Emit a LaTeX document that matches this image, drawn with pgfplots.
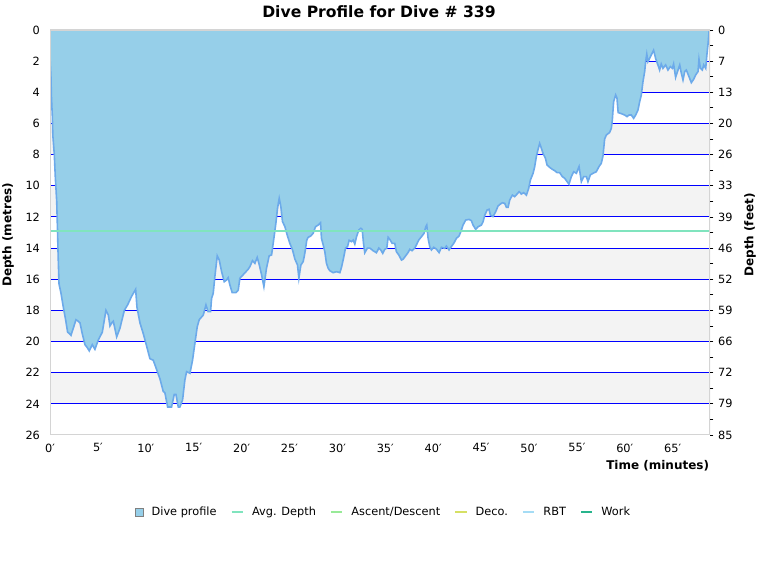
\documentclass[border=0pt]{standalone}
\usepackage{fontspec}
\setmainfont{DejaVu Sans}
\usepackage{pgfplots}
\usepackage{pgfplotstable}
\pgfplotsset{compat=1.18}

\definecolor{profilefill}{RGB}{150,207,233}
\definecolor{profileline}{RGB}{108,170,234}
\definecolor{band}{RGB}{243,243,243}
\definecolor{gridblue}{RGB}{0,0,255}
\definecolor{framegrey}{RGB}{212,212,212}
\definecolor{avgdepth}{RGB}{128,228,190}
\definecolor{ascent}{RGB}{152,234,152}
\definecolor{deco}{RGB}{214,224,100}
\definecolor{rbt}{RGB}{165,220,245}
\definecolor{work}{RGB}{40,180,140}

\pgfplotsset{
  lineleg/.style={legend image code/.code={\draw[##1] (0pt,0pt) -- (8.5pt,0pt);}},
  boxleg/.style={legend image code/.code={\draw[fill=profilefill, draw=gray] (0pt,-3pt) rectangle (6pt,3pt);}},
}

% time (min), depth (m)
\pgfplotstableread{
t d
0.00 1.5
0.02 2.0
0.10 3.0
0.15 4.3
0.24 5.5
0.30 6.8
0.45 8.0
0.55 9.4
0.70 11.0
0.78 12.8
0.85 14.5
0.94 16.3
1.15 16.9
1.39 17.8
1.63 18.6
1.84 19.4
2.05 19.5
2.19 19.6
2.43 19.15
2.71 18.6
2.95 18.7
3.13 18.8
3.37 19.5
3.65 20.2
3.90 20.4
4.10 20.6
4.41 20.2
4.69 20.5
5.04 19.9
5.46 19.4
5.84 18.0
6.09 18.3
6.26 19.0
6.45 18.8
6.61 18.7
6.96 19.7
7.30 19.15
7.76 18.0
8.10 17.65
8.52 17.1
8.94 16.65
9.08 17.8
9.39 18.8
9.74 19.5
10.09 20.3
10.43 21.1
10.78 21.2
11.13 21.8
11.48 22.4
11.82 23.2
12.00 23.3
12.28 24.2
12.69 24.2
12.97 23.4
13.15 23.4
13.39 24.2
13.56 24.2
13.84 23.75
14.08 22.47
14.26 21.93
14.61 22.04
14.88 21.2
15.13 20.1
15.37 19.05
15.58 18.6
16.00 18.3
16.28 17.65
16.50 18.08
16.76 18.08
16.87 17.23
17.04 16.9
17.21 15.84
17.46 14.5
17.67 14.77
17.91 15.5
18.19 16.16
18.43 16.05
18.60 15.9
18.78 16.37
19.02 16.86
19.41 16.86
19.65 16.7
19.82 15.94
20.24 15.66
20.69 15.36
20.86 15.2
21.14 14.81
21.39 14.98
21.63 14.6
21.84 15.06
22.08 15.69
22.33 16.48
22.60 15.3
22.88 14.5
23.13 14.44
23.30 13.7
23.58 12.41
23.75 11.45
23.93 10.81
24.10 11.34
24.27 12.3
24.52 12.62
24.76 13.16
25.04 13.7
25.32 14.12
25.56 14.7
25.84 15.09
25.98 15.94
26.19 15.09
26.43 14.87
26.60 14.34
26.81 13.48
26.95 13.31
27.23 13.22
27.47 13.05
27.72 12.63
28.00 12.52
28.24 12.37
28.34 13.37
28.52 13.8
28.69 14.23
28.86 14.98
29.04 15.3
29.21 15.45
29.56 15.58
29.91 15.51
30.26 15.58
30.43 15.24
30.60 14.77
30.85 14.0
31.06 13.91
31.23 13.5
31.47 13.59
31.65 13.48
31.82 13.74
32.00 13.27
32.24 12.84
32.45 12.73
32.59 12.8
32.73 13.7
32.86 14.3
33.14 14.0
33.39 14.0
33.73 14.17
34.08 14.3
34.33 14.0
34.53 14.12
34.74 14.34
34.95 14.08
35.16 14.0
35.30 13.31
35.47 13.44
35.72 13.7
35.99 13.7
36.16 14.23
36.41 14.44
36.69 14.77
36.86 14.72
37.11 14.51
37.37 14.3
37.56 14.08
37.80 14.17
38.08 14.0
38.25 13.8
38.50 13.48
38.78 13.27
39.05 13.05
39.23 12.63
39.33 12.52
39.47 13.37
39.64 13.9
39.82 14.12
40.06 13.95
40.34 14.07
40.62 14.29
40.86 13.95
41.21 14.02
41.38 13.87
41.66 14.12
41.90 13.9
42.15 13.7
42.42 13.38
42.71 13.22
42.95 12.84
43.12 12.52
43.40 12.2
43.75 12.16
43.99 12.24
44.16 12.52
44.44 12.8
44.69 12.63
45.04 12.52
45.21 12.31
45.39 11.88
45.63 11.56
45.83 11.51
45.97 11.88
46.25 11.98
46.53 11.66
46.77 11.3
47.02 11.17
47.23 11.09
47.47 11.13
47.65 11.39
47.82 11.39
47.99 10.92
48.27 10.6
48.51 10.7
48.76 10.53
48.97 10.38
49.21 10.53
49.45 10.44
49.73 10.6
49.97 10.17
50.15 9.63
50.43 9.2
50.60 8.77
50.77 8.13
50.95 7.66
51.12 7.28
51.30 7.6
51.47 7.92
51.72 8.24
51.89 8.67
52.17 8.82
52.45 8.95
52.69 9.03
52.94 9.16
53.21 9.16
53.48 9.41
53.73 9.52
54.18 9.9
54.42 9.42
54.67 9.1
54.95 9.2
55.23 8.77
55.47 9.74
55.72 9.41
56.00 9.41
56.16 9.74
56.41 9.3
56.69 9.2
57.03 9.1
57.31 8.77
57.55 8.56
57.73 8.08
57.90 7.0
58.08 6.74
58.42 6.58
58.60 6.31
58.70 5.8
58.84 4.6
59.05 4.17
59.19 4.38
59.31 5.3
59.64 5.37
60.00 5.46
60.24 5.56
60.45 5.46
60.69 5.46
60.93 5.67
61.14 5.46
61.38 5.14
61.56 4.6
61.73 4.17
61.90 3.32
62.08 2.67
62.18 2.03
62.30 1.55
62.42 2.03
62.60 1.82
62.77 1.6
63.01 1.3
63.22 1.82
63.46 2.24
63.64 2.57
63.81 2.18
63.99 2.46
64.27 2.24
64.51 2.57
64.76 2.35
64.97 2.46
65.10 2.18
65.31 3.04
65.56 2.57
65.74 2.24
65.91 2.78
66.08 3.21
66.26 2.67
66.43 2.57
66.71 3.0
66.95 3.38
67.19 3.17
67.40 2.89
67.65 2.67
67.75 1.88
67.90 2.46
68.10 2.57
68.24 2.24
68.45 2.46
68.59 1.5
68.70 0.86
68.80 0.1
68.86 0
}\profile

\begin{document}
\begin{tikzpicture}
\useasboundingbox (0pt,0pt) rectangle (570pt,435pt);

% metres, left
\begin{axis}[
  at={(37.5pt,108.75pt)}, anchor=south west,
  scale only axis, width=495pt, height=303.75pt,
  xmin=0, xmax=68.9, ymin=0, ymax=26, y dir=reverse,
  axis line style={draw=none},
  tick style={draw=none},
  xtick={0,5,...,65},
  xticklabels={0′,5′,10′,15′,20′,25′,30′,35′,40′,45′,50′,55′,60′,65′},
  ytick={0,2,...,26},
  /pgf/number format/assume math mode=true,
  tick label style={font=\fontsize{8.5}{10}\selectfont},
  xticklabel style={yshift=-3pt},
  yticklabel style={xshift=-4pt},
  legend columns=6,
  legend style={draw=none, fill=none, at={(0.506,-0.19)}, anchor=center,
    font=\fontsize{8.5}{10}\selectfont, column sep=0pt,
    /tikz/every odd column/.append style={column sep=4pt},
    /tikz/every even column/.append style={column sep=8.5pt}},
]
\fill[band] (axis cs:0,2) rectangle (axis cs:68.9,4);
\fill[band] (axis cs:0,6) rectangle (axis cs:68.9,8);
\fill[band] (axis cs:0,10) rectangle (axis cs:68.9,12);
\fill[band] (axis cs:0,14) rectangle (axis cs:68.9,16);
\fill[band] (axis cs:0,18) rectangle (axis cs:68.9,20);
\fill[band] (axis cs:0,22) rectangle (axis cs:68.9,24);
\pgfplotsinvokeforeach{2,4,...,24}{
  \draw[gridblue, line width=0.8pt] (axis cs:0,#1) -- (axis cs:68.9,#1);
}

\addplot[fill=profilefill, draw=none, forget plot] table[x=t, y=d] {\profile} \closedcycle;
\addplot[profileline, line width=1.2pt, forget plot] table[x=t, y=d] {\profile};
\addplot[avgdepth, line width=1.5pt, forget plot] coordinates {(0,12.88) (68.9,12.88)};
\draw[framegrey, line width=0.8pt] (rel axis cs:0,0) rectangle (rel axis cs:1,1);

\addlegendimage{boxleg}
\addlegendimage{avgdepth, line width=1.6pt, lineleg}
\addlegendimage{ascent, line width=1.6pt, lineleg}
\addlegendimage{deco, line width=1.6pt, lineleg}
\addlegendimage{rbt, line width=1.6pt, lineleg}
\addlegendimage{work, line width=1.6pt, lineleg}
\legend{Dive profile, Avg. Depth, Ascent/Descent, Deco., RBT, Work}
\end{axis}

% feet, right
\begin{axis}[
  at={(37.5pt,108.75pt)}, anchor=south west,
  scale only axis, width=495pt, height=303.75pt,
  xmin=0, xmax=68.9, ymin=0, ymax=26, y dir=reverse,
  axis x line=none, axis y line*=right,
  axis line style={draw=none},
  ytick={0,2,...,26},
  yticklabels={0,7,13,20,26,33,39,46,52,59,66,72,79,85},
  minor ytick={1,3,...,25},
  tick align=outside, major tick length=2.5pt, minor tick length=2.5pt,
  tick style={black, line width=0.6pt},
  yticklabel style={font=\fontsize{8.5}{10}\selectfont},
]
\end{axis}

\node[font=\fontsize{11.7}{14}\selectfont\bfseries] at (284.25pt,426pt) {Dive Profile for Dive \# 339};
\node[font=\fontsize{9}{11}\selectfont\bfseries, rotate=90] at (6pt,258.75pt) {Depth (metres)};
\node[font=\fontsize{9}{11}\selectfont\bfseries, rotate=90] at (562.5pt,258.75pt) {Depth (feet)};
\node[font=\fontsize{9}{11}\selectfont\bfseries, anchor=east, inner sep=0pt] at (532pt,85.5pt) {Time (minutes)};
\end{tikzpicture}
\end{document}
